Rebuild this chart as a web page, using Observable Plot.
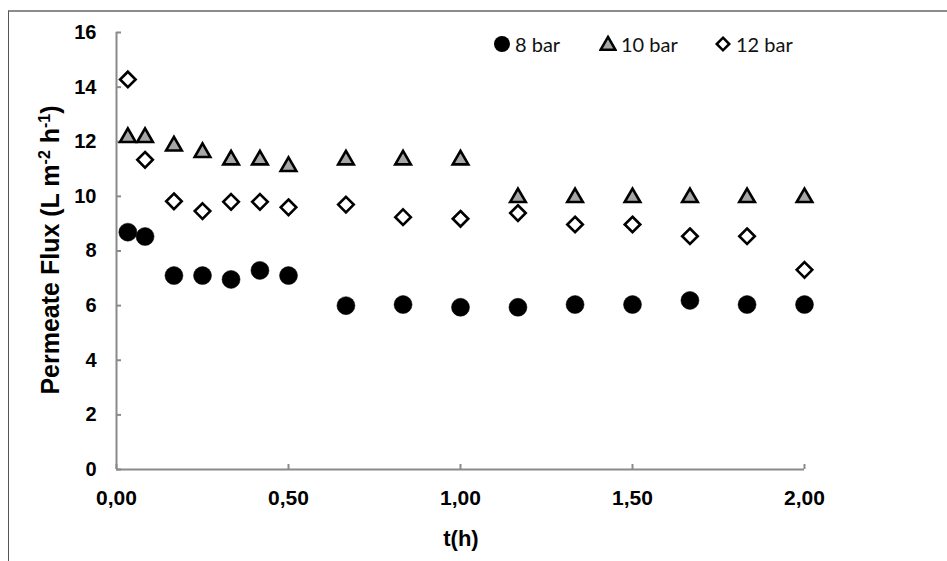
<!DOCTYPE html>
<html>
<head>
<meta charset="utf-8">
<script src="https://cdn.jsdelivr.net/npm/d3@7"></script>
<script src="https://cdn.jsdelivr.net/npm/@observablehq/plot@0.6"></script>
<style>
  body { margin: 0; background: #fff; }
  #wrap { position: relative; width: 947px; height: 561px; overflow: hidden; background: #fff; }
  #frame { position: absolute; left: 8px; top: 10px; width: 980px; height: 600px;
           border-top: 2px solid #8c8c8c; border-left: 1px solid #555; pointer-events: none; }
  #legend { position: absolute; top: 0; left: 0; width: 947px; font-family: Lato, "Open Sans", sans-serif; font-size: 20px; color: #111; }
  .item { position: absolute; display: flex; align-items: center; height: 24px; white-space: nowrap; }
  .item svg { margin-right: 4px; flex: none; }
</style>
</head>
<body>
<div id="wrap">
  <div id="chart"></div>
  <div id="frame"></div>
  <div id="legend"></div>
</div>
<script>
// ---- data ----
const times = [0.033, 0.083, 0.167, 0.25, 0.333, 0.417, 0.5, 0.667, 0.833, 1.0, 1.167, 1.333, 1.5, 1.667, 1.833, 2.0];
const flux8  = [8.69, 8.53, 7.10, 7.10, 6.96, 7.29, 7.10, 6.00, 6.04, 5.94, 5.94, 6.04, 6.04, 6.19, 6.04, 6.04];
const flux10 = [12.23, 12.23, 11.92, 11.68, 11.41, 11.41, 11.17, 11.41, 11.41, 11.41, 10.03, 10.03, 10.03, 10.03, 10.03, 10.03];
const flux12 = [14.28, 11.34, 9.82, 9.46, 9.80, 9.80, 9.60, 9.70, 9.24, 9.18, 9.39, 8.97, 8.97, 8.54, 8.54, 7.31];
const seriesNames = ["8 bar", "10 bar", "12 bar"];
const xTicks = [0, 0.5, 1, 1.5, 2];
const yTicks = [0, 2, 4, 6, 8, 10, 12, 14, 16];
const xLabel = "t(h)";

const rows = (vals) => times.map((t, i) => ({t, v: vals[i]}));
const d8 = rows(flux8), d10 = rows(flux10), d12 = rows(flux12);
const fmtX = d => d.toFixed(2).replace(".", ",");

const font = "'Liberation Sans', Arial, sans-serif";
const axisColor = "#8a8a8a";

const plot = Plot.plot({
  width: 947,
  height: 561,
  marginLeft: 116,
  marginRight: 143,
  marginTop: 32,
  marginBottom: 92,
  style: {fontFamily: font, background: "transparent", overflow: "visible"},
  x: {domain: [0, 2]},
  y: {domain: [0, 16]},
  marks: [
    Plot.ruleY([0], {stroke: axisColor, strokeWidth: 2}),
    Plot.ruleX([0], {stroke: axisColor, strokeWidth: 2}),
    Plot.axisX({ticks: xTicks, tickFormat: fmtX, tickSize: -5, tickPadding: 26, stroke: axisColor, strokeWidth: 2,
                fill: "black", fontSize: 21, fontWeight: "bold", label: null}),
    Plot.axisY({ticks: yTicks, tickFormat: d => String(d), tickSize: -5, tickPadding: 25, stroke: axisColor, strokeWidth: 2,
                fill: "black", fontSize: 20, fontWeight: "bold", label: null}),
    Plot.dot(d8, {x: "t", y: "v", r: 9, fill: "black", stroke: "black", strokeWidth: 0.5}),
    Plot.dot(d10, {x: "t", y: "v", symbol: "triangle", r: 5.8, dy: 2, fill: "#a6a6a6", stroke: "black", strokeWidth: 2.6}),
    Plot.dot(d12, {x: "t", y: "v", symbol: "diamond2", r: 7, fill: "white", stroke: "black", strokeWidth: 2.6})
  ]
});
document.getElementById("chart").appendChild(plot);

const svg = d3.select(plot);
// y axis title with superscripts
const yt = svg.append("text")
  .attr("transform", "translate(59,250) rotate(-90)")
  .attr("text-anchor", "middle")
  .attr("font-family", font)
  .attr("font-weight", "bold")
  .attr("font-size", 25)
  .attr("fill", "black");
yt.append("tspan").text("Permeate Flux (L m");
yt.append("tspan").attr("font-size", 16).attr("dy", -9).text("-2");
yt.append("tspan").attr("dy", 9).text(" h");
yt.append("tspan").attr("font-size", 16).attr("dy", -9).text("-1");
yt.append("tspan").attr("dy", 9).text(")");

// x axis title
svg.append("text")
  .attr("x", 461).attr("y", 546)
  .attr("text-anchor", "middle")
  .attr("font-family", font)
  .attr("font-weight", "bold")
  .attr("font-size", 22)
  .attr("fill", "black")
  .text(xLabel);

// legend
const legend = d3.select("#legend");
const icons = [
  {type: d3.symbolCircle, size: Math.PI * 64, fill: "black", stroke: "none", sw: 0},
  {type: d3.symbolTriangle, size: 95, fill: "#a6a6a6", stroke: "black", sw: 2.5},
  {type: d3.symbolDiamond2, size: 100, fill: "white", stroke: "black", sw: 2.5}
];
const legendLeft = [493, 599, 714];
seriesNames.forEach((name, i) => {
  const it = legend.append("div").attr("class", "item")
    .style("left", legendLeft[i] + "px").style("top", "32px");
  const s = it.append("svg").attr("width", 18).attr("height", 20);
  s.append("path")
    .attr("transform", i === 1 ? "translate(9,11.5)" : "translate(9,10)")
    .attr("d", d3.symbol().type(icons[i].type).size(icons[i].size)())
    .attr("fill", icons[i].fill)
    .attr("stroke", icons[i].stroke)
    .attr("stroke-width", icons[i].sw);
  it.append("span").text(name);
});
</script>
</body>
</html>
